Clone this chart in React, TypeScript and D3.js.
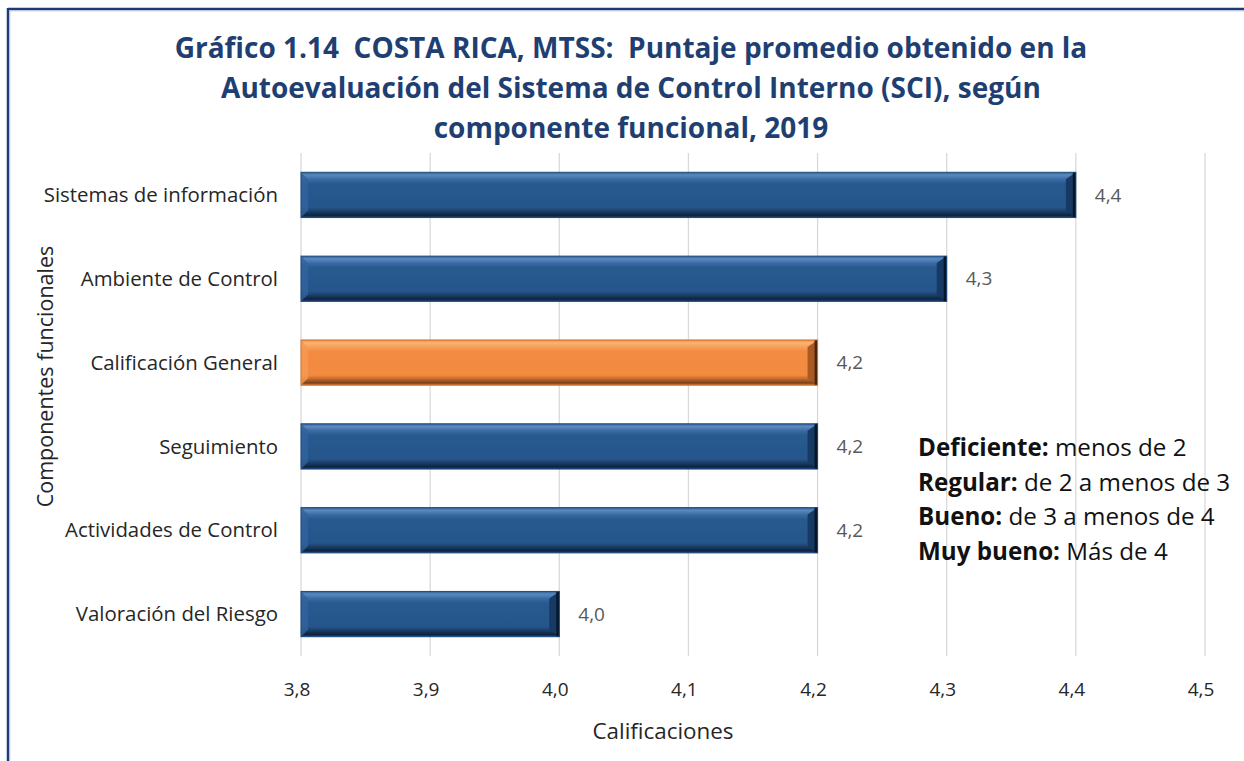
import React from 'react';
import * as d3 from 'd3';

// Componentes funcionales, top to bottom
const categories = [
  'Sistemas de información',
  'Ambiente de Control',
  'Calificación General',
  'Seguimiento',
  'Actividades de Control',
  'Valoración del Riesgo',
];
const values = [4.4, 4.3, 4.2, 4.2, 4.2, 4.0];
const highlighted = ['Calificación General'];
const xTicks = [3.8, 3.9, 4.0, 4.1, 4.2, 4.3, 4.4, 4.5];

const titleLines = [
  'Gráfico 1.14  COSTA RICA, MTSS:  Puntaje promedio obtenido en la',
  'Autoevaluación del Sistema de Control Interno (SCI), según',
  'componente funcional, 2019',
];
const legendBold = ['Deficiente:', 'Regular:', 'Bueno:', 'Muy bueno:'];
const legendRest = [' menos de 2', ' de 2 a menos de 3', ' de 3 a menos de 4', ' Más de 4'];

const W = 1244;
const H = 761;
const FONT = '"Open Sans", Lato, sans-serif';

const fmt = d3.formatLocale({ decimal: ',', thousands: '.', grouping: [3], currency: ['', ''] }).format('.1f');

export default function App() {
  const plot = { left: 301, right: 1205, top: 153, bottom: 656 };

  const x = d3.scaleLinear().domain([3.8, 4.5]).range([plot.left, plot.right]);
  const y = d3.scaleBand()
    .domain(categories)
    .range([plot.top, plot.bottom])
    .paddingInner(0.46)
    .paddingOuter(0.23);

  const bevel = 7;

  return (
    <svg width={W} height={H} style={{ position: 'absolute', left: 0, top: 0, whiteSpace: 'pre' }} fontFamily={FONT}>
      <defs>
        <linearGradient id="gBlue" x1="0" y1="0" x2="0" y2="1">
          <stop offset="0" stopColor="#2e5f97" />
          <stop offset="0.06" stopColor="#5b89c0" />
          <stop offset="0.16" stopColor="#3a6aa2" />
          <stop offset="0.25" stopColor="#285a90" />
          <stop offset="0.78" stopColor="#25558a" />
          <stop offset="0.86" stopColor="#1b3f68" />
          <stop offset="0.95" stopColor="#0e2440" />
          <stop offset="1" stopColor="#1c4675" />
        </linearGradient>
        <linearGradient id="gOrange" x1="0" y1="0" x2="0" y2="1">
          <stop offset="0" stopColor="#e9853a" />
          <stop offset="0.06" stopColor="#fbb373" />
          <stop offset="0.16" stopColor="#f6a05a" />
          <stop offset="0.25" stopColor="#f38c42" />
          <stop offset="0.78" stopColor="#f28a40" />
          <stop offset="0.86" stopColor="#c46a2c" />
          <stop offset="0.95" stopColor="#7a4119" />
          <stop offset="1" stopColor="#d7782f" />
        </linearGradient>
      </defs>

      <rect x={0} y={0} width={W} height={H} fill="#ffffff" />

      {/* frame (only top and left edges are visible) */}
      <line x1={8} x2={W} y1={9} y2={9} stroke="#1f3a78" strokeWidth={2.5} />
      <line x1={8} x2={W} y1={10.8} y2={10.8} stroke="#b8c4dc" strokeWidth={1} />
      <line x1={8} x2={8} y1={8} y2={H} stroke="#1f3a78" strokeWidth={2.5} />
      <line x1={9.8} x2={9.8} y1={10} y2={H} stroke="#b8c4dc" strokeWidth={1} />

      {/* title */}
      <text textAnchor="middle" fill="#1f3f73" fontWeight="bold" fontSize={28} style={{ whiteSpace: 'pre' }}>
        {titleLines.map((t, i) => (
          <tspan key={i} x={631} y={58 + i * 40}>{t}</tspan>
        ))}
      </text>

      {/* gridlines */}
      {xTicks.map(t => (
        <line key={t} x1={x(t)} x2={x(t)} y1={plot.top} y2={plot.bottom} stroke="#d9d9d9" strokeWidth={1.3} />
      ))}

      {/* bars */}
      {categories.map((c, i) => {
        const x0 = x(3.8);
        const x1 = x(values[i]);
        const y0 = y(c)!;
        const h = y.bandwidth();
        const orange = highlighted.includes(c);
        const endDark = orange ? '#4a2408' : '#061528';
        const endMid = orange ? '#a95a22' : '#163a63';
        return (
          <g key={c}>
            <rect x={x0} y={y0} width={x1 - x0} height={h} fill={orange ? 'url(#gOrange)' : 'url(#gBlue)'} />
            {/* left bevel */}
            <polygon
              points={`${x0},${y0} ${x0 + bevel},${y0 + bevel} ${x0 + bevel},${y0 + h - bevel} ${x0},${y0 + h}`}
              fill={orange ? '#f59a52' : '#31639c'}
              opacity={0.8}
            />
            {/* right bevel */}
            <polygon
              points={`${x1},${y0} ${x1 - bevel - 3},${y0 + bevel} ${x1 - bevel - 3},${y0 + h - bevel} ${x1},${y0 + h}`}
              fill={endMid}
            />
            <rect x={x1 - 3} y={y0} width={3} height={h} fill={endDark} />
            <rect x={x0} y={y0} width={x1 - x0} height={h} fill="none" stroke={orange ? '#d77630' : '#1d4a7c'} strokeWidth={1} />
          </g>
        );
      })}

      {/* value labels */}
      {categories.map((c, i) => (
        <text
          key={c}
          x={x(values[i]) + 19}
          y={y(c)! + y.bandwidth() / 2}
          dy="0.35em"
          fontSize={19}
          fill="#595959"
        >
          {fmt(values[i])}
        </text>
      ))}

      {/* category labels */}
      {categories.map(c => (
        <text
          key={c}
          x={278}
          y={y(c)! + y.bandwidth() / 2}
          dy="0.35em"
          textAnchor="end"
          fontSize={20.4}
          fill="#262626"
        >
          {c}
        </text>
      ))}

      {/* x tick labels */}
      {xTicks.map(t => (
        <text key={t} x={x(t) - 4} y={689} dy="0.35em" textAnchor="middle" fontSize={19} fill="#262626">
          {fmt(t)}
        </text>
      ))}

      {/* axis titles */}
      <text x={663} y={731} dy="0.35em" textAnchor="middle" fontSize={22.4} fill="#262626">Calificaciones</text>
      <text
        transform={`translate(45,${(plot.top + plot.bottom) / 2 - 28}) rotate(-90)`}
        textAnchor="middle"
        dy="0.35em"
        fontSize={21.5}
        fill="#262626"
      >
        Componentes funcionales
      </text>

      {/* rating scale note */}
      <text fontSize={24.2} fill="#111111" style={{ whiteSpace: 'pre' }}>
        {legendBold.map((b, i) => (
          <tspan key={i} x={918} y={456 + i * 34.5}>
            <tspan fontWeight="bold">{b}</tspan>
            <tspan>{legendRest[i]}</tspan>
          </tspan>
        ))}
      </text>
    </svg>
  );
}
